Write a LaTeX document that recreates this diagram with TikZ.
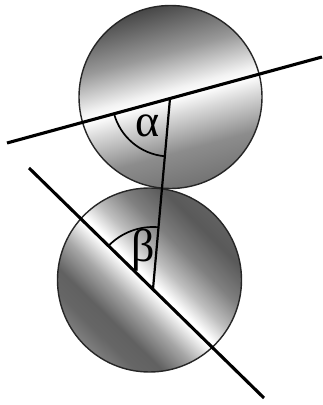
\documentclass[tikz,border=0pt]{standalone}
\usepackage{fontspec}
\setmainfont{Liberation Serif}
\usetikzlibrary{calc}

% bands of light across each ball
\pgfdeclareverticalshading{topball}{100bp}{%
  color(0bp)=(black!55); color(25bp)=(black!55); color(35bp)=(black!45);
  color(45bp)=(black!15); color(49.6bp)=(white); color(52bp)=(black!5);
  color(62bp)=(black!40); color(75bp)=(black!72); color(100bp)=(black!72)}
\pgfdeclareverticalshading{lowball}{100bp}{%
  color(0bp)=(black!50); color(25bp)=(black!50); color(30bp)=(black!60);
  color(35bp)=(black!62); color(42bp)=(black!35); color(48.5bp)=(white);
  color(50bp)=(white); color(55bp)=(black!25); color(62bp)=(black!50);
  color(70bp)=(black!65); color(75bp)=(black!62); color(100bp)=(black!62)}

\begin{document}
\begin{tikzpicture}[x=1pt, y=1pt,
    ballrim/.style={draw=black!85, line width=1.4pt},
    chord/.style={line width=3.1pt},
    link/.style={line width=2.2pt},
    angarc/.style={line width=1.7pt},
    lbl/.style={font=\fontsize{46}{46}\selectfont, inner sep=0pt}]
  \useasboundingbox (0,0) rectangle (323,405);

  % === Centres and vertices ===
  \coordinate (topC) at (170.5,308);
  \coordinate (lowC) at (149.5,125);
  \coordinate (alphaV) at (170,306.5);
  \coordinate (betaV) at (153,116);
  \coordinate (topL) at (7,262);
  \coordinate (topR) at (322,348);
  \coordinate (lowL) at (29,237);
  \coordinate (lowR) at (264,7);

  % === Shaded balls ===
  \begin{scope}[transform canvas={rotate around={15.27:(topC)}}]
    \shade[shading=topball] (topC) circle (91.5);
  \end{scope}
  \begin{scope}[transform canvas={rotate around={-44.38:(lowC)}}]
    \shade[shading=lowball] (lowC) circle (92);
  \end{scope}
  \draw[ballrim] (topC) circle (91.5);
  \draw[ballrim] (lowC) circle (92);

  % === Lines ===
  \draw[chord] (topL) -- (topR);
  \draw[chord] (lowL) -- (lowR);
  \draw[link] (alphaV) -- (betaV);

  % Angles
  \draw[angarc] (alphaV) ++(195.27:58) arc[start angle=195.27, end angle=264.9, radius=58];
  \draw[angarc] (betaV) ++(84.9:62) arc[start angle=84.9, end angle=135.62, radius=62];
  \node[lbl] (alpha) at (147.5,279) {α};
  \node[lbl] (beta) at (143,155) {β};
\end{tikzpicture}
\end{document}
